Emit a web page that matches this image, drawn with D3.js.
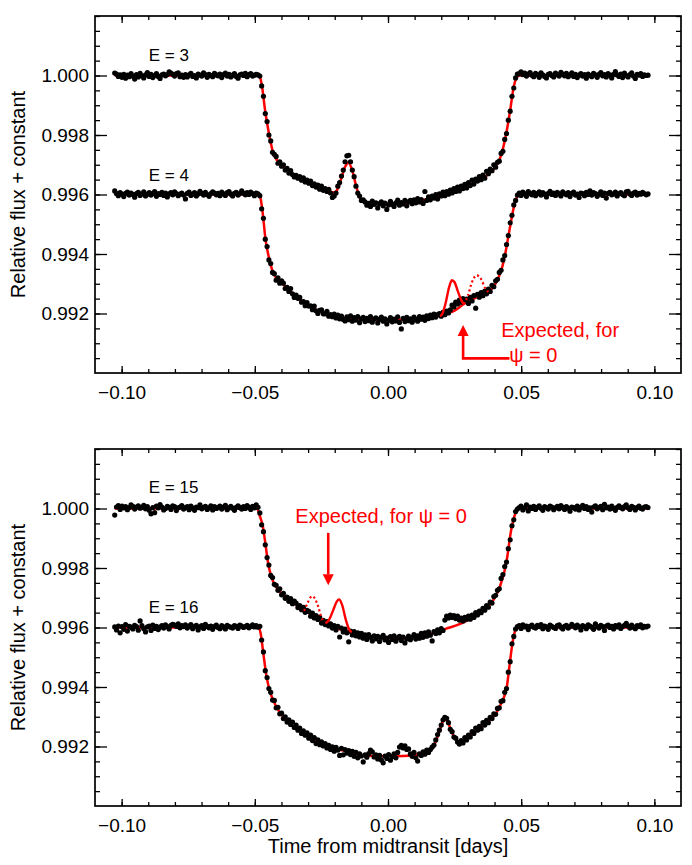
<!DOCTYPE html>
<html>
<head>
<meta charset="utf-8">
<script src="https://cdn.jsdelivr.net/npm/d3@7"></script>
<style>
body { margin: 0; background: #fff; }
text { font-family: "Liberation Sans", Arial, Helvetica, sans-serif; }
</style>
</head>
<body>
<svg width="692" height="865"></svg>
<script>

// Kepler short cadence: first sample time and spacing (days from midtransit)
var t0 = -0.1026, cadence = 0.000681;
// flux values below are in units of 1e-5, relative to each transit's constant
var fluxUnit = 1e-5;

var e3Base = 1.000, e4Base = 0.996, e15Base = 1.000, e16Base = 0.996;

var xMajor = [-0.10, -0.05, 0.00, 0.05, 0.10];
var yMajor = [0.992, 0.994, 0.996, 0.998, 1.000];
var xDomain = [-0.11, 0.11], yDomain = [0.990, 1.002];

// ---- E = 3 ----
var e3Flux = [
  8, 5, -3, 2, -6, 4, -9, 1, -4, 6, -2, -12, 3, -5, 7, -1, -8, 2, 10, -3,
  4, -7, 0, 6, -3, -10, 2, 5, -1, 3, 12, 8, 4, -2, 6, 9, -4, 1, -6, 3,
  -5, 2, 7, -3, 0, -8, 5, 1, -2, 9, 3, -6, 4, 0, -4, 7, 2, -1, 5, -7,
  3, 8, -2, 4, -5, 1, 6, -3, -9, 2, 5, 0, 7, -4, 3, 6, -2, 1, 4, 2,
  -2, -35, -70, -128, -155, -200, -220, -258, -265,
  -272, -295, -290, -305, -300, -318, -312, -328, -320, -333,
  -341, -336, -345, -340, -352, -344, -358, -352, -362, -355,
  -370, -364, -375, -368, -382, -372, -386, -380, -390, -383,
  -395, -410, -405,
  -395, -372, -360, -338, -318, -290, -270, -268, -290, -318, -340, -372, -395, -405, -420, -418,
  -425, -436, -430, -440, -422, -433, -428, -445, -431, -425, -438, -429, -450, -435, -423, -433,
  -440, -428, -419, -436, -427, -432, -420, -438, -425,
  -420, -431, -418, -428, -414, -425, -417, -430, -390, -420,
  -408, -418, -405, -412, -400, -415, -398, -405, -392, -404,
  -390, -399, -385, -395, -380, -390, -375, -388, -372, -380,
  -366, -378, -360, -370, -352, -365, -348, -355, -340, -350,
  -335, -345, -322, -330, -315, -320, -300, -308,
  -292, -288, -262, -255, -215, -195, -150, -120, -70, -42, -8, 5,
  6, 12, 3, 8, -2, 5, 10, 1, -4, 7, 3, -6, 9, 2, -3, -8, 4, 6, 0, -5,
  8, 3, -2, 11, 5, -1, 7, -4, 2, 9, -3, 4, -7, 1, 6, -2, 3, -9, 5, 0,
  -4, 7, 2, -6, 4, 10, -1, 3, -5, 6, 1, -8, 4, 13, 2, -3, 5, -7, 8, 0,
  -5, 3, 9, -2, -10, 4, 1, 6, -3, 2, 0, 1
];
var e3Model = [
  [-0.1026, 0], [-0.0484, 0], [-0.0474, -30], [-0.0461, -120], [-0.0447, -195],
  [-0.0434, -250], [-0.0420, -280], [-0.0400, -302], [-0.035, -335], [-0.030, -358],
  [-0.025, -378], [-0.0202, -393], [-0.0188, -380], [-0.0175, -345], [-0.0161, -307],
  [-0.0148, -293], [-0.0134, -320], [-0.0120, -370], [-0.0107, -408], [-0.0093, -424],
  [-0.006, -430], [0.005, -430], [0.0083, -426], [0.0167, -412], [0.022, -398],
  [0.028, -380], [0.034, -352], [0.038, -330], [0.0405, -305], [0.0418, -285],
  [0.0431, -248], [0.0445, -190], [0.0459, -115], [0.0472, -38], [0.0486, -3],
  [0.0495, 0], [0.0976, 0]
];

// ---- E = 4 ----
var e4Flux = [
  12, 3, -4, 6, 1, -7, 4, 8, -2, 5, 0, -9, 3, 7, -3, 2, 9, -5, 1, 6,
  -2, 4, 10, -6, 3, 0, 7, -3, 5, -8, 2, 6, -1, 9, 3, -4, 1, 5, -2, -15,
  4, 8, -3, 1, 6, -5, 2, 11, 4, -2, 7, 0, -6, 3, 9, 5, -1, 4, -4, 8,
  2, -3, 6, 10, 1, -5, 4, 7, -2, 3, 12, 5, -1, 6, 0, 8, 3, -4, 5, 2,
  -4, -48, -80, -150, -175, -220, -232, -262, -266, -288, -280, -298, -290,
  -298, -316, -312, -326, -316, -334, -346, -338, -349, -346,
  -362, -360, -374, -363, -375, -374, -387, -375, -391, -400,
  -389, -388, -401, -401, -393, -409, -404, -411,
  -402, -415, -405, -418, -409, -420, -425, -411, -421, -408,
  -426, -414, -422, -410, -431, -418, -413, -427, -416, -424,
  -410, -429, -419, -415, -432, -420, -412, -426, -418, -435,
  -423, -414, -428, -419, -425, -411, -430, -452, -416, -427,
  -413, -424, -418, -429, -412, -420, -426, -410, -419, -412,
  -423, -408, -417, -405, -414, -402, -412, -404, -400, -409,
  -396, -404, -392, -398, -388, -372, -378, -362, -368, -355,
  -362, -350, -358, -352, -366, -346, -358, -340, -382, -336,
  -345, -330, -340, -325, -334, -318, -326, -305, -310, -290,
  -285, -262, -255, -220, -205, -168, -138, -95, -70, -35, -20, -2,
  5, -3, 8, 2, -6, 10, 4, -1, 7, -4, 3, 9, -2, 6, 1, -8, 4, 11, 0, 5,
  -3, 7, 2, -5, 9, 3, -1, 6, -7, 4, 8, -2, 1, -10, 5, 3, -4, 7, 0, 12,
  -2, 6, 3, -6, 1, 9, -3, 5, -12, 4, 7, -1, 2, 8, -5, 3, 6, 0, -4, 9,
  11, 2, -3, 5, 8, -2, 4, 1, 7, 3, -1, 2
];
var e4Model = [
  [-0.1026, 0], [-0.0485, 0], [-0.0478, -15], [-0.0470, -65], [-0.0460, -150],
  [-0.0450, -200], [-0.0440, -238], [-0.0430, -265], [-0.0415, -285], [-0.0394, -302],
  [-0.0331, -355], [-0.027, -388], [-0.0207, -408], [-0.015, -416], [-0.008, -420],
  [0.004, -421], [0.012, -417], [0.018, -410], [0.022, -400], [0.025, -390],
  [0.0285, -368], [0.033, -347], [0.0377, -328], [0.040, -305], [0.0417, -275],
  [0.043, -240], [0.044, -200], [0.045, -150], [0.046, -100], [0.047, -52],
  [0.048, -18], [0.049, 0], [0.0976, 0]
];
// expected spot crossing for psi = 0 (solid) and alternative (dotted)
var e4Expected = [
  [0.0195, -408], [0.0202, -404], [0.0215, -370], [0.023, -310], [0.024, -288],
  [0.025, -295], [0.0262, -325], [0.0275, -355], [0.0285, -368]
];
var e4ExpectedDotted = [
  [0.0285, -368], [0.030, -340], [0.0315, -295], [0.0333, -272], [0.035, -285],
  [0.0365, -315], [0.0377, -328]
];

// ---- E = 15 ----
var e15Flux = [
  -22, 5, 10, -3, 8, 2, 6, -4, 3, 12, 7, -2, 5, 9, 1, 4, 11, -1, 6, -6,
  -18, 3, -14, 8, 2, 13, 5, -5, 0, 7, 4, -3, 9, 6, -7, 2, 5, 10, -2, 3,
  6, -4, 8, 1, -6, 5, 3, 12, -1, 4, 7, -3, 2, 9, -5, 6, 0, 3, 8, -2,
  5, 11, -4, 2, 7, 1, -6, 4, 9, 3, -2, 6, 0, 10, 4, -3, 7, 2, 12, 4,
  -15, -55, -78, -122, -165, -190, -225, -232, -255, -258, -275, -270, -290, -285, -302, -298,
  -312, -303, -320, -311, -318, -333, -326, -340, -332, -349,
  -342, -346, -362, -352, -368, -360, -373, -366, -385, -376,
  -390, -380, -395, -388, -402, -394, -408, -396, -432, -402,
  -415, -405, -418, -448, -412,
  -425, -414, -428, -418, -432, -420, -436, -425, -440, -424,
  -433, -445, -428, -438, -430, -447, -433, -426, -442, -436,
  -450, -431, -440, -428, -446, -435, -430, -444, -432, -452,
  -438, -429, -441, -433, -424, -439, -428, -436, -420, -433,
  -418, -429, -415, -426, -445, -414, -420, -408, -418, -404,
  -410,
  -375, -362, -368, -358, -366, -360, -370, -362, -375, -368, -378, -366, -372, -362,
  -372, -358, -366, -350, -358, -345, -350, -336, -342, -326, -332, -315, -318, -296, -292, -275, -270,
  -235, -222, -195, -180, -135, -105, -58, -38, -10, -2,
  3, 8, -5, 2, 12, -8, 5, 0, 7, -3, 4, 9, 1, -6, 6, 3, -2, 8, 5, -4,
  2, 7, -1, 10, 4, -3, 6, 1, -9, 5, 3, -2, 8, -5, 4, 11, 0, 6, -3, 2,
  -12, 5, 9, -1, 3, 7, -4, 14, 2, 5, -2, 8, 1, -6, 4, 9, 3, -1, 6, 12,
  2, -3, 7, 4, -5, 3, 8, 1, -2, 5, 6, 3
];
var e15Model = [
  [-0.1026, 0], [-0.0492, 0], [-0.0481, -26], [-0.0470, -60], [-0.0460, -120],
  [-0.0450, -184], [-0.0438, -230], [-0.0419, -265], [-0.038, -300], [-0.0331, -332],
  [-0.0282, -360], [-0.0207, -398], [-0.0135, -418], [-0.006, -432], [0.002, -437],
  [0.009, -435], [0.0158, -422], [0.0218, -404], [0.0271, -388], [0.0343, -350],
  [0.0388, -318], [0.0418, -268], [0.0444, -184], [0.0462, -75], [0.0475, -25],
  [0.0488, -3], [0.0495, 0], [0.0976, 0]
];
var e15Expected = [
  [-0.0235, -386], [-0.0222, -375], [-0.0205, -340], [-0.0192, -312], [-0.0183, -306],
  [-0.0172, -325], [-0.0158, -375], [-0.0145, -408], [-0.0136, -416]
];
var e15ExpectedDotted = [
  [-0.0315, -344], [-0.0302, -318], [-0.0292, -300], [-0.0283, -295], [-0.0273, -305],
  [-0.0262, -330], [-0.0252, -360], [-0.0243, -380]
];

// ---- E = 16 ----
var e16Flux = [
  2, -8, 5, -18, 3, -6, 10, -12, 4, 1, -5, 7, 3, -9, 22, 6, -4, -15, 2, 5,
  -10, 8, -3, 4, -7, 1, 6, -2, 9, 3, -5, 7, 11, 8, 4, 12, -1, 6, 3, 9,
  -2, 5, 10, -4, 3, 7, -8, 2, 6, -3, 11, 4, -1, 5, -6, 3, 8, 0, -4, 6,
  2, -5, 7, 3, 1, -2, 6, 4, -3, 8, 5, 0, 3, 7, -1, 4, 9, 2, 6, 1,
  4, -42, -82, -145, -168, -205, -218, -244, -245, -270, -268, -290, -288, -306,
  -300, -318, -310, -326, -318, -336, -328, -345, -338, -356,
  -347, -362, -354, -372, -362, -380, -370, -390, -378, -394,
  -384, -398, -390, -405, -396, -410, -401, -416, -403, -412,
  -430, -406, -428, -410, -422, -414, -427, -416, -433, -420,
  -438, -425, -432, -452, -428, -436, -424, -412, -418, -435,
  -428, -442, -430, -445, -455, -432, -440, -427, -446, -434,
  -425, -438, -420, -402, -396, -405, -398, -410, -408, -425,
  -433, -420, -438, -449, -425, -430, -418, -426, -412, -420,
  -410,
  -402, -395, -378, -360, -345, -328, -310, -302, -305, -320,
  -342, -350, -368, -372, -385, -392, -380, -388, -370, -378,
  -362, -368, -350, -356, -338, -345, -332, -340, -320, -328,
  -312, -320, -302, -306, -290, -292,
  -272, -270, -248, -246, -218, -205, -150, -115, -55, -30, -5, 3,
  6, -3, 9, 2, 5, -7, 4, 8, 1, -2, 7, 3, 10, -4, 5, 2, -6, 8, 4, 0,
  -3, 6, 9, 1, -5, 4, 7, -2, 3, 11, 5, -1, 8, 2, -8, 6, 3, -4, 9, 5,
  1, -6, 12, 4, -2, 7, 3, -10, 5, 8, 0, 4, -5, 6, 2, 9, -3, 3, 7, 14,
  5, -2, 8, 1, -4, 6, 3, 9, -1, 4, 2, 5
];
var e16Model = [
  [-0.1026, 0], [-0.0486, 0], [-0.0478, -20], [-0.0469, -80], [-0.0456, -165],
  [-0.0444, -212], [-0.0425, -256], [-0.0394, -300], [-0.0331, -346], [-0.027, -383],
  [-0.0218, -404], [-0.0158, -416], [-0.0093, -430], [0.0033, -433], [0.0120, -425],
  [0.0162, -412], [0.0185, -370], [0.0205, -318], [0.0214, -306], [0.0225, -320],
  [0.0245, -362], [0.0265, -384], [0.0275, -384], [0.0300, -368], [0.0346, -335],
  [0.0381, -311], [0.0405, -290], [0.0421, -262], [0.0435, -235], [0.0446, -200],
  [0.0456, -130], [0.0466, -60], [0.0476, -15], [0.0486, 0], [0.0976, 0]
];

// annotation anchors, in data units (time, flux)
var topArrow = [[0.0456, 0.99049], [0.0282, 0.99049], [0.0282, 0.99161]];
var topNote = [["Expected, for", 0.0425, 0.99121], ["\u03c8 = 0", 0.0455, 0.99037]];
var bottomArrow = [[-0.02244, 0.99918], [-0.02244, 0.99742]];
var bottomNote = [["Expected, for \u03c8 = 0", -0.0348, 0.99952]];

var svg = d3.select("svg"),
    left = 95, right = 681;

var x = d3.scaleLinear().domain(xDomain).range([left, right]);

var panels = [
  {top: 16, bottom: 373,
   curves: [
     {label: "E = 3", labelAt: [-0.0898, 1.00048], base: e3Base, flux: e3Flux, model: e3Model},
     {label: "E = 4", labelAt: [-0.0898, 0.99645], base: e4Base, flux: e4Flux, model: e4Model}
   ],
   expected: e4Expected, dotted: e4ExpectedDotted, expBase: e4Base,
   arrow: topArrow, notes: topNote},
  {top: 449, bottom: 806,
   curves: [
     {label: "E = 15", labelAt: [-0.0898, 1.00053], base: e15Base, flux: e15Flux, model: e15Model},
     {label: "E = 16", labelAt: [-0.0898, 0.99648], base: e16Base, flux: e16Flux, model: e16Model}
   ],
   expected: e15Expected, dotted: e15ExpectedDotted, expBase: e15Base,
   arrow: bottomArrow, notes: bottomNote}
];

var xMinor = d3.range(-0.10, 0.1001, 0.01);
var yMinor = d3.range(0.9905, 1.0021, 0.0005);

panels.forEach(function(p) {
  var y = d3.scaleLinear().domain(yDomain).range([p.bottom, p.top]);
  var g = svg.append("g");

  // axes: ticks point inward on all four sides
  function axisG(axis, tx, ty) {
    var a = g.append("g")
      .attr("transform", "translate(" + tx + "," + ty + ")")
      .call(axis);
    a.select(".domain").remove();
    a.selectAll("line").attr("stroke", "#000").attr("stroke-width", 1.3);
    a.selectAll("text").attr("font-family", null).attr("font-size", 19).attr("fill", "#000");
    return a;
  }
  axisG(d3.axisBottom(x).tickValues(xMinor).tickSize(-4).tickSizeOuter(0).tickFormat(""), 0, p.bottom);
  axisG(d3.axisBottom(x).tickValues(xMajor).tickSize(-7).tickSizeOuter(0).tickPadding(13)
    .tickFormat(d3.format(".2f")), 0, p.bottom);
  axisG(d3.axisTop(x).tickValues(xMinor).tickSize(-4).tickSizeOuter(0).tickFormat(""), 0, p.top);
  axisG(d3.axisTop(x).tickValues(xMajor).tickSize(-7).tickSizeOuter(0).tickFormat(""), 0, p.top);
  axisG(d3.axisLeft(y).tickValues(yMinor).tickSize(-5).tickSizeOuter(0).tickFormat(""), left, 0);
  axisG(d3.axisLeft(y).tickValues(yMajor).tickSize(-12).tickSizeOuter(0).tickPadding(6)
    .tickFormat(d3.format(".3f")), left, 0);
  axisG(d3.axisRight(y).tickValues(yMinor).tickSize(-5).tickSizeOuter(0).tickFormat(""), right, 0);
  axisG(d3.axisRight(y).tickValues(yMajor).tickSize(-12).tickSizeOuter(0).tickFormat(""), right, 0);

  g.append("rect")
    .attr("x", left).attr("y", p.top)
    .attr("width", right - left).attr("height", p.bottom - p.top)
    .attr("fill", "none").attr("stroke", "#000").attr("stroke-width", 1.7);

  g.append("text")
    .attr("transform", "translate(25," + ((p.top + p.bottom) / 2) + ") rotate(-90)")
    .attr("text-anchor", "middle")
    .attr("font-size", 20)
    .text("Relative flux + constant");

  p.curves.forEach(function(c) {
    var line = d3.line()
      .curve(d3.curveMonotoneX)
      .x(function(d) { return x(d[0]); })
      .y(function(d) { return y(c.base + d[1] * fluxUnit); });

    g.append("path")
      .datum(c.model)
      .attr("d", line)
      .attr("fill", "none").attr("stroke", "#ff0000").attr("stroke-width", 2.5);

    g.append("g").selectAll("circle")
      .data(c.flux)
      .join("circle")
      .attr("cx", function(d, i) { return x(t0 + i * cadence); })
      .attr("cy", function(d) { return y(c.base + d * fluxUnit); })
      .attr("r", 2.6)
      .attr("fill", "#000");

    g.append("text")
      .attr("x", x(c.labelAt[0])).attr("y", y(c.labelAt[1]))
      .attr("font-size", 17)
      .text(c.label);
  });

  var expLine = d3.line()
    .curve(d3.curveMonotoneX)
    .x(function(d) { return x(d[0]); })
    .y(function(d) { return y(p.expBase + d[1] * fluxUnit); });

  g.append("path").datum(p.expected).attr("d", expLine)
    .attr("fill", "none").attr("stroke", "#ff0000").attr("stroke-width", 2.4);
  g.append("path").datum(p.dotted).attr("d", expLine)
    .attr("fill", "none").attr("stroke", "#ff0000").attr("stroke-width", 2.2)
    .attr("stroke-dasharray", "2,2.6");

  // arrow
  var pts = p.arrow.map(function(d) { return [x(d[0]), y(d[1])]; });
  var tip = pts[pts.length - 1], prev = pts[pts.length - 2];
  var dx = tip[0] - prev[0], dy = tip[1] - prev[1], len = Math.sqrt(dx * dx + dy * dy);
  var ux = dx / len, uy = dy / len, headL = 11, headW = 5.5;
  var shaft = pts.slice(0, -1).concat([[tip[0] - ux * headL, tip[1] - uy * headL]]);
  g.append("path")
    .attr("d", d3.line()(shaft))
    .attr("fill", "none").attr("stroke", "#ff0000").attr("stroke-width", 2.6);
  g.append("path")
    .attr("d", d3.line()([
      tip,
      [tip[0] - ux * headL - uy * headW, tip[1] - uy * headL + ux * headW],
      [tip[0] - ux * headL + uy * headW, tip[1] - uy * headL - ux * headW]
    ]) + "Z")
    .attr("fill", "#ff0000");

  g.selectAll(".note")
    .data(p.notes)
    .join("text")
    .attr("x", function(d) { return x(d[1]); })
    .attr("y", function(d) { return y(d[2]); })
    .attr("font-size", 20)
    .attr("fill", "#ff0000")
    .text(function(d) { return d[0]; });
});

svg.append("text")
  .attr("x", x(0)).attr("y", 853)
  .attr("text-anchor", "middle")
  .attr("font-size", 20)
  .text("Time from midtransit [days]");

</script>
</body>
</html>
